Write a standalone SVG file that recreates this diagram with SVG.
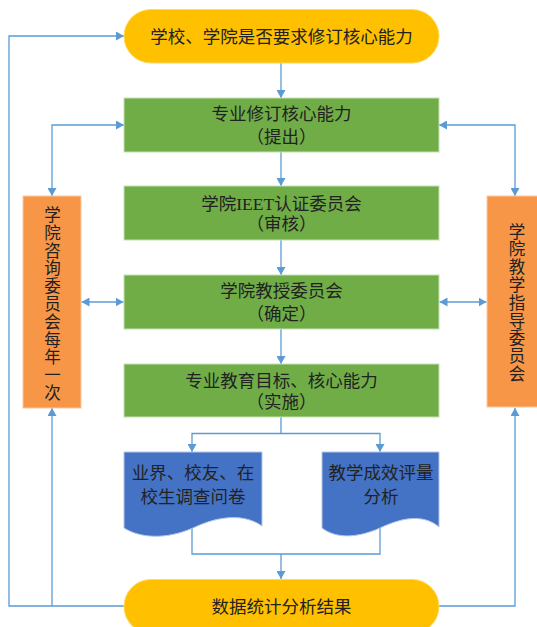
<svg xmlns="http://www.w3.org/2000/svg" width="537" height="627" viewBox="0 0 537 627">
<style>
.t{font-family:"Liberation Serif","Noto Sans CJK SC",serif;font-size:17.5px;fill:#222;text-anchor:middle}
.v{font-family:"Noto Sans CJK SC",sans-serif;font-size:16.5px;fill:#222;writing-mode:vertical-rl;text-anchor:start;letter-spacing:1.3px}
.c{fill:none;stroke:#5B9BD5;stroke-width:1.3}
.y{fill:#FFC000;stroke:#FFD966;stroke-width:1}
.g{fill:#70AD47;stroke:#C5E0B4;stroke-width:1}
.o{fill:#F79646;stroke:#FBC9A3;stroke-width:1}
.b{fill:#4472C4;stroke:#B4C7E7;stroke-width:1}
</style>
<defs>
<marker id="a" viewBox="0 0 10 10" refX="10" refY="5" markerWidth="8" markerHeight="9" preserveAspectRatio="none" markerUnits="userSpaceOnUse" orient="auto-start-reverse">
<path d="M0,0 L10,5 L0,10 z" fill="#5B9BD5"/>
</marker>
</defs>
<rect width="537" height="627" fill="#fff"/>
<g id="connectors">
<path class="c" d="M281 63 V98" marker-end="url(#a)"/>
<path class="c" d="M281 152 V186" marker-end="url(#a)"/>
<path class="c" d="M281 240 V275" marker-end="url(#a)"/>
<path class="c" d="M281 329 V364" marker-end="url(#a)"/>
<path class="c" d="M281 417 V433.5 H192 V452" marker-end="url(#a)"/>
<path class="c" d="M281 433.5 H380 V452" marker-end="url(#a)"/>
<path class="c" d="M192 520 V554 H380 V520"/>
<path class="c" d="M281 554 V579" marker-end="url(#a)"/>
<path class="c" d="M124 606 H9 V36 H124" marker-end="url(#a)"/>
<path class="c" d="M52 606 V408" marker-end="url(#a)"/>
<path class="c" d="M52 196 V125 H124" marker-start="url(#a)" marker-end="url(#a)"/>
<path class="c" d="M515 196 V125 H439" marker-start="url(#a)" marker-end="url(#a)"/>
<path class="c" d="M439 606 H515 V408" marker-end="url(#a)"/>
<path class="c" d="M81.5 302 H123.5" marker-start="url(#a)" marker-end="url(#a)"/>
<path class="c" d="M439.5 302 H486.5" marker-start="url(#a)" marker-end="url(#a)"/>
</g>
<g id="start">
<rect class="y" x="124" y="9.5" width="315" height="53.5" rx="27"/>
<text class="t" x="281.5" y="43.3">学校、学院是否要求修订核心能力</text>
</g>
<g id="propose">
<rect class="g" x="124" y="98" width="315" height="54"/>
<text class="t" x="281.5" y="120">专业修订核心能力</text>
<text class="t" x="281.5" y="143.3">（提出）</text>
</g>
<g id="review">
<rect class="g" x="124" y="186" width="315" height="54"/>
<text class="t" x="281.5" y="209.5">学院IEET认证委员会</text>
<text class="t" x="281.5" y="230">（审核）</text>
</g>
<g id="confirm">
<rect class="g" x="124" y="275" width="315" height="54"/>
<text class="t" x="281.5" y="296.6">学院教授委员会</text>
<text class="t" x="281.5" y="320">（确定）</text>
</g>
<g id="implement">
<rect class="g" x="124" y="364" width="315" height="53"/>
<text class="t" x="281.5" y="386.6">专业教育目标、核心能力</text>
<text class="t" x="281.5" y="408.3">（实施）</text>
</g>
<g id="advisory">
<rect class="o" x="23" y="196" width="58" height="212"/>
<text class="v" x="52.5" y="206.5">学院咨询委员会每年一次</text>
</g>
<g id="teaching">
<rect class="o" x="487" y="196" width="60" height="211"/>
<text class="v" x="517" y="223">学院教学指导委员会</text>
</g>
<g id="survey">
<path class="b" d="M124 452 H262 V526 C245 514, 220 515, 193 528 C165 540, 140 538, 124 528 Z"/>
<text class="t" x="193" y="479.3">业界、校友、在</text>
<text class="t" x="193" y="503.3">校生调查问卷</text>
</g>
<g id="evaluation">
<path class="b" d="M322 452 H439 V527 C425 515, 405 516, 380 528 C355 539, 335 538, 322 528 Z"/>
<text class="t" x="381" y="479.3">教学成效评量</text>
<text class="t" x="381" y="503.3">分析</text>
</g>
<g id="result">
<rect class="y" x="124" y="579.5" width="315" height="54" rx="27"/>
<text class="t" x="281.5" y="613.3">数据统计分析结果</text>
</g>
</svg>
